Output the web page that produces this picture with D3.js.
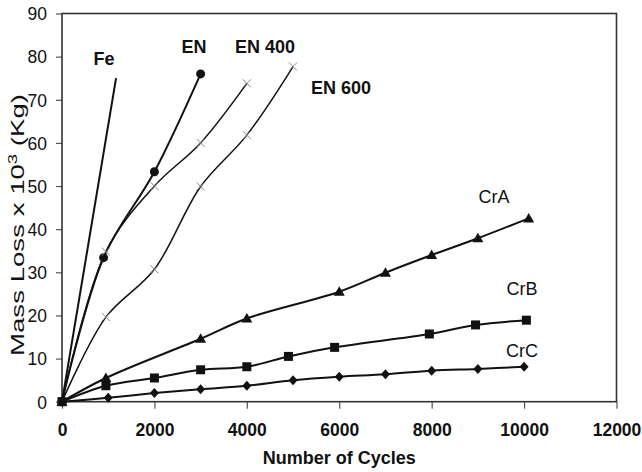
<!doctype html>
<html lang="en">
<head>
    <meta charset="utf-8">
    <title>Mass loss vs cycles</title>
    <script src="https://cdn.jsdelivr.net/npm/d3@7"></script>
    <style>
        body { margin: 0; background: #fff; }
        svg { display: block; font-family: "Liberation Sans", Arial, sans-serif; }
        .axis path { display: none; }
        .axis line { stroke: #555; stroke-width: 1.2; }
        .axis text { font-size: 17.5px; fill: #111; }
    </style>
</head>
<body>
<svg width="642" height="472"></svg>
<script>
    // values (cycles / mass loss x 10^3 kg)
    var feCycles = [0, 1170];
    var feLoss = [0, 75];

    var enCycles = [0, 900, 2000, 3000];
    var enLoss = [0, 33.4, 53.3, 76];

    var en400Cycles = [0, 950, 2000, 3000, 4000];
    var en400Loss = [0, 34.8, 50, 60, 73.8];

    var en600Cycles = [0, 950, 2000, 3000, 4000, 5000];
    var en600Loss = [0, 19.6, 30.7, 49.9, 61.8, 77.7];

    var crACycles = [0, 950, 3000, 4000, 6000, 7000, 8000, 9000, 10100];
    var crALoss = [0, 5.5, 14.6, 19.3, 25.5, 29.9, 34.0, 37.9, 42.5];

    var crBCycles = [0, 950, 2000, 3000, 4000, 4900, 5900, 7950, 8950, 10050];
    var crBLoss = [0, 3.7, 5.5, 7.4, 8.1, 10.5, 12.6, 15.7, 17.8, 18.9];

    var crCCycles = [0, 1000, 2000, 3000, 4000, 5000, 6000, 7000, 8000, 9000, 10000];
    var crCLoss = [0, 0.9, 2.0, 2.9, 3.7, 5.0, 5.8, 6.35, 7.2, 7.6, 8.1];

    var xTicks = [0, 2000, 4000, 6000, 8000, 10000, 12000];
    var yTicks = [0, 10, 20, 30, 40, 50, 60, 70, 80, 90];

    var series = [
        { name: "Fe", cycles: feCycles, loss: feLoss, marker: "none", width: 2, lx: 104, ly: 65, anchor: "middle", bold: true },
        { name: "EN", cycles: enCycles, loss: enLoss, marker: "circle", width: 2, lx: 194, ly: 53, anchor: "middle", bold: true },
        { name: "EN 400", cycles: en400Cycles, loss: en400Loss, marker: "cross", width: 1.5, lx: 265, ly: 53, anchor: "middle", bold: true },
        { name: "EN 600", cycles: en600Cycles, loss: en600Loss, marker: "cross", width: 1.5, lx: 311, ly: 94, anchor: "start", bold: true },
        { name: "CrA", cycles: crACycles, loss: crALoss, marker: "triangle", width: 2, lx: 494, ly: 203, anchor: "middle", bold: false },
        { name: "CrB", cycles: crBCycles, loss: crBLoss, marker: "square", width: 2, lx: 522, ly: 295, anchor: "middle", bold: false },
        { name: "CrC", cycles: crCCycles, loss: crCLoss, marker: "diamond", width: 2, lx: 522, ly: 357, anchor: "middle", bold: false }
    ];

    var svg = d3.select("svg");
    var plotLeft = 62, plotRight = 616.5, plotTop = 13.5, plotBottom = 401.7;

    var x = d3.scaleLinear().domain([0, 12000]).range([plotLeft, plotRight]);
    var y = d3.scaleLinear().domain([0, 90]).range([plotBottom, plotTop]);

    // axes
    svg.append("g")
        .attr("class", "axis")
        .attr("transform", "translate(0," + plotBottom + ")")
        .call(d3.axisBottom(x).tickValues(xTicks).tickSize(7).tickPadding(15).tickFormat(d3.format("d")))
        .selectAll("text").attr("font-weight", "bold");

    svg.append("g")
        .attr("class", "axis")
        .attr("transform", "translate(" + plotLeft + ",0)")
        .call(d3.axisLeft(y).tickValues(yTicks).tickSize(6).tickPadding(9))
        .selectAll("text").attr("dy", "0.36em");

    // plot frame
    svg.append("rect")
        .attr("x", plotLeft).attr("y", plotTop)
        .attr("width", plotRight - plotLeft).attr("height", plotBottom - plotTop)
        .attr("fill", "none").attr("stroke", "#333").attr("stroke-width", 1.6);

    var line = d3.line()
        .x(function (d) { return x(d[0]); })
        .y(function (d) { return y(d[1]); })
        .curve(d3.curveCatmullRom);

    series.forEach(function (s) {
        var pts = s.cycles.map(function (c, i) { return [c, s.loss[i]]; });
        svg.append("path")
            .attr("d", line(pts))
            .attr("fill", "none")
            .attr("stroke", "#111")
            .attr("stroke-width", s.width);

        var g = svg.append("g");
        pts.forEach(function (p) {
            var px = x(p[0]), py = y(p[1]);
            if (s.marker === "circle") {
                g.append("circle").attr("cx", px).attr("cy", py).attr("r", 4.5).attr("fill", "#111");
            } else if (s.marker === "square") {
                g.append("rect").attr("x", px - 4.5).attr("y", py - 4.5).attr("width", 9).attr("height", 9).attr("fill", "#111");
            } else if (s.marker === "triangle") {
                g.append("path").attr("d", "M" + px + "," + (py - 5.5) + "L" + (px + 5.5) + "," + (py + 4) + "L" + (px - 5.5) + "," + (py + 4) + "Z").attr("fill", "#111");
            } else if (s.marker === "diamond") {
                g.append("path").attr("d", "M" + px + "," + (py - 5) + "L" + (px + 4.5) + "," + py + "L" + px + "," + (py + 5) + "L" + (px - 4.5) + "," + py + "Z").attr("fill", "#111");
            } else if (s.marker === "cross") {
                g.append("path").attr("d", "M" + (px - 4) + "," + (py - 4) + "L" + (px + 4) + "," + (py + 4) + "M" + (px - 4) + "," + (py + 4) + "L" + (px + 4) + "," + (py - 4))
                    .attr("stroke", "#888").attr("stroke-width", 1);
            }
        });

        svg.append("text")
            .attr("x", s.lx).attr("y", s.ly)
            .attr("text-anchor", s.anchor)
            .attr("font-size", 18)
            .attr("font-weight", s.bold ? "bold" : "normal")
            .attr("fill", "#111")
            .text(s.name);
    });

    // axis titles
    svg.append("text")
        .attr("x", (plotLeft + plotRight) / 2).attr("y", 464)
        .attr("text-anchor", "middle")
        .attr("font-size", 18).attr("font-weight", "bold")
        .attr("fill", "#111")
        .text("Number of Cycles");

    var yt = svg.append("text")
        .attr("transform", "translate(24,225) rotate(-90)")
        .attr("text-anchor", "middle")
        .attr("font-size", 18)
        .attr("fill", "#111")
        .attr("textLength", 262)
        .attr("lengthAdjust", "spacingAndGlyphs");
    yt.append("tspan").text("Mass Loss x 10");
    yt.append("tspan").attr("font-size", 12).attr("dy", -7).text("3");
    yt.append("tspan").attr("dy", 7).text(" (Kg)");
</script>
</body>
</html>
